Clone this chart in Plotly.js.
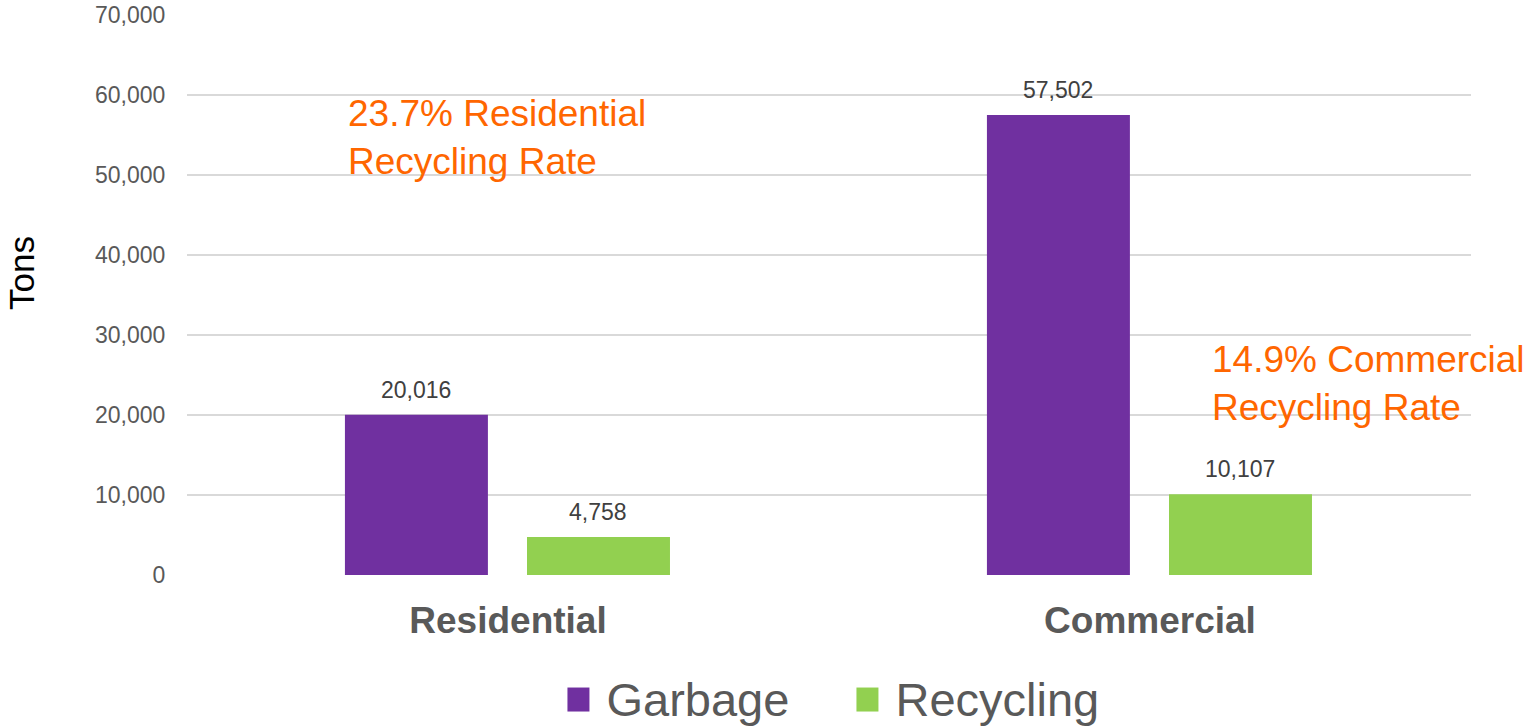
<!DOCTYPE html>
<html>
<head>
<meta charset="utf-8">
<script src="https://cdn.plot.ly/plotly-3.0.1.min.js"></script>
<style>html,body{margin:0;padding:0;background:#fff;}#chart{width:1527px;height:726px;}</style>
</head>
<body>
<div id="chart"></div>
<script>
const categories = ["Residential", "Commercial"];
const garbage = [20016, 57502];
const recycling = [4758, 10107];
const seriesNames = ["Garbage", "Recycling"];
const yTicks = [0, 10000, 20000, 30000, 40000, 50000, 60000, 70000];
const rateNotes = ["23.7% Residential<br>Recycling Rate", "14.9% Commercial<br>Recycling Rate"];

const FONT = "Liberation Sans, Arial, sans-serif";
const fmt = v => v.toLocaleString("en-US");

const BAR_W = 0.2227;
const OFF_G = -0.254, OFF_R = 0.0296;
const CAT_PX = 642; // px per category slot (plot width / 2)

const traces = [
  {
    type: "bar", name: seriesNames[0], x: categories, y: garbage,
    marker: {color: "#7030A0"}, width: BAR_W, offset: OFF_G, hoverinfo: "none"
  },
  {
    type: "bar", name: seriesNames[1], x: categories, y: recycling,
    marker: {color: "#92D050"}, width: BAR_W, offset: OFF_R, hoverinfo: "none"
  }
];

const valueLabel = (cat, v, off) => ({
  text: fmt(v), xref: "x", yref: "y", x: cat, y: v,
  xanchor: "center", yanchor: "bottom", showarrow: false,
  xshift: (off + BAR_W / 2) * CAT_PX, yshift: 10,
  font: {family: FONT, size: 23, color: "#404040"}
});

const annotations = [];
categories.forEach((c, i) => {
  annotations.push(valueLabel(c, garbage[i], OFF_G));
  annotations.push(valueLabel(c, recycling[i], OFF_R));
});
annotations.push(
  {text: rateNotes[0], xref: "paper", yref: "y", x: 0.1238, y: 60500,
   xanchor: "left", yanchor: "top", align: "left", showarrow: false,
   font: {family: FONT, size: 37, color: "#FF6600"}},
  {text: rateNotes[1], xref: "paper", yref: "y", x: 0.797, y: 29700,
   xanchor: "left", yanchor: "top", align: "left", showarrow: false,
   font: {family: FONT, size: 37, color: "#FF6600"}}
);

const layout = {
  width: 1527, height: 726,
  margin: {l: 187, r: 56, t: 15, b: 151, autoexpand: false},
  paper_bgcolor: "#fff", plot_bgcolor: "#fff",
  font: {family: FONT, color: "#595959"},
  barmode: "group",
  showlegend: true,
  legend: {
    orientation: "h", x: 0.5206, xanchor: "center", y: -0.2196, yanchor: "middle",
    font: {family: FONT, size: 47, color: "#595959"},
    entrywidth: 244, traceorder: "normal", bgcolor: "rgba(0,0,0,0)"
  },
  xaxis: {
    type: "category", range: [-0.5, 1.5],
    showgrid: false, zeroline: false, showline: false,
    ticks: "outside", ticklen: 13, tickcolor: "rgba(0,0,0,0)",
    tickfont: {family: FONT, size: 37, color: "#595959", weight: "bold"}
  },
  yaxis: {
    range: [0, 70000], tickvals: yTicks, ticktext: yTicks.map(fmt),
    showgrid: true, gridcolor: "#D9D9D9", gridwidth: 2,
    zeroline: false, showline: false,
    ticks: "outside", ticklen: 16, tickcolor: "rgba(0,0,0,0)",
    tickfont: {family: FONT, size: 23, color: "#595959"},
    title: {text: "Tons", font: {family: FONT, size: 35, color: "#000"}, standoff: 49}
  },
  annotations: annotations
};

Plotly.newPlot("chart", traces, layout, {displayModeBar: false, staticPlot: true}).then(gd => {
  const sb = gd.querySelector(".legend .scrollbox");
  if (sb) sb.removeAttribute("clip-path");
  gd.querySelectorAll(".legend .scrollbar").forEach(s => s.style.display = "none");
  gd.querySelectorAll(".legend .legendpoints path").forEach(p => {
    p.setAttribute("d", "M3,14H-19V-10H3Z");
  });
  const yt = gd.querySelector(".ytitle");
  if (yt) {
    const g = document.createElementNS("http://www.w3.org/2000/svg", "g");
    g.setAttribute("transform", "translate(0,-22)");
    yt.parentNode.insertBefore(g, yt);
    g.appendChild(yt);
  }
});
</script>
</body>
</html>
